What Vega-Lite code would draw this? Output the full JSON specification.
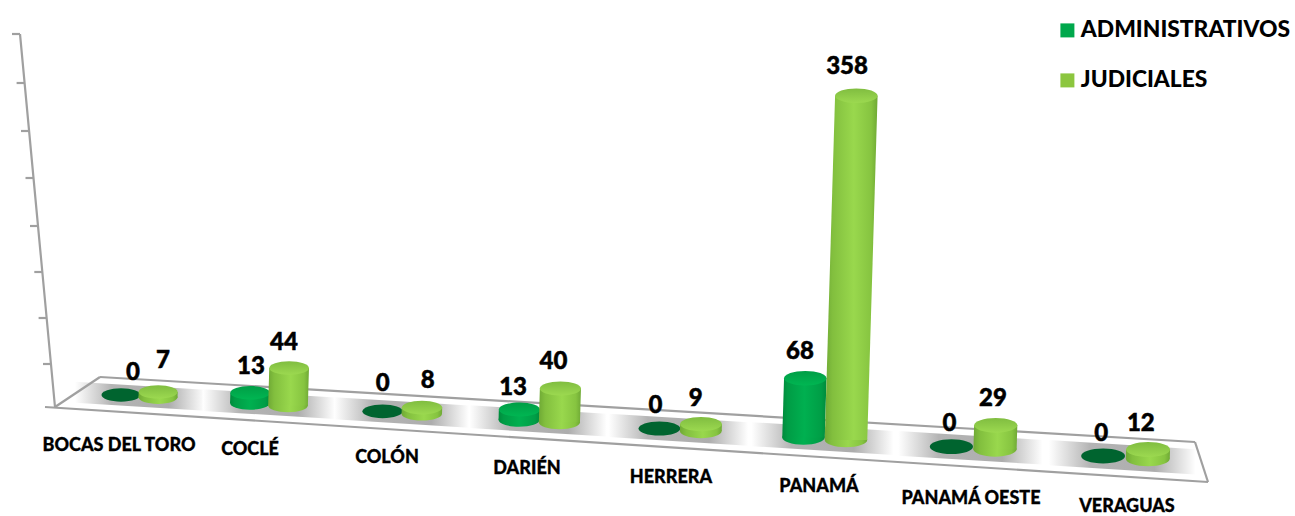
{
"$schema":"https://vega.github.io/schema/vega-lite/v6.json",
"width":1295,"height":516,"padding":0,"autosize":{"type":"none"},
"background":"white",
"config":{"view":{"stroke":null},"font":"Lato"},
"data":{"values":[
{"departamento":"BOCAS DEL TORO","tipo":"ADMINISTRATIVOS","valor":0},
{"departamento":"BOCAS DEL TORO","tipo":"JUDICIALES","valor":7},
{"departamento":"COCLÉ","tipo":"ADMINISTRATIVOS","valor":13},
{"departamento":"COCLÉ","tipo":"JUDICIALES","valor":44},
{"departamento":"COLÓN","tipo":"ADMINISTRATIVOS","valor":0},
{"departamento":"COLÓN","tipo":"JUDICIALES","valor":8},
{"departamento":"DARIÉN","tipo":"ADMINISTRATIVOS","valor":13},
{"departamento":"DARIÉN","tipo":"JUDICIALES","valor":40},
{"departamento":"HERRERA","tipo":"ADMINISTRATIVOS","valor":0},
{"departamento":"HERRERA","tipo":"JUDICIALES","valor":9},
{"departamento":"PANAMÁ","tipo":"ADMINISTRATIVOS","valor":68},
{"departamento":"PANAMÁ","tipo":"JUDICIALES","valor":358},
{"departamento":"PANAMÁ OESTE","tipo":"ADMINISTRATIVOS","valor":0},
{"departamento":"PANAMÁ OESTE","tipo":"JUDICIALES","valor":29},
{"departamento":"VERAGUAS","tipo":"ADMINISTRATIVOS","valor":0},
{"departamento":"VERAGUAS","tipo":"JUDICIALES","valor":12}
]},
"transform":[
{"calculate":"indexof(['BOCAS DEL TORO','COCLÉ','COLÓN','DARIÉN','HERRERA','PANAMÁ','PANAMÁ OESTE','VERAGUAS'],datum.departamento)","as":"i"},
{"calculate":"datum.tipo==='JUDICIALES'?1:0","as":"j"},
{"calculate":"2*datum.i+datum.j","as":"s"},
{"calculate":"121+127*datum.i+1.9*datum.i*datum.i+datum.j*(37+1.1*datum.i)","as":"xb"},
{"calculate":"395+0.0622*(datum.xb-121)","as":"yb"},
{"calculate":"19.5+0.35*datum.i","as":"r"},
{"calculate":"pow(datum.valor,1.06)*0.676","as":"h"},
{"calculate":"datum.xb+0.03*datum.h","as":"xt"},
{"calculate":"datum.yb-datum.h","as":"yt"},
{"calculate":"4*datum.r*datum.r","as":"area"}
],
"encoding":{
"x":{"type":"quantitative","scale":{"domain":[0,1295],"range":[0,1295],"nice":false,"zero":false},"axis":null},
"y":{"type":"quantitative","scale":{"domain":[0,516],"range":[0,516],"nice":false,"zero":false},"axis":null}
},
"layer":[
{"data":{"values":[{"a":55,"b":407,"c":407},{"a":100,"b":377,"c":410},{"a":1195,"b":442,"c":481},{"a":1208,"b":482,"c":482}]},
 "mark":{"type":"area","fill":"#ffffff"},
 "encoding":{"x":{"field":"a"},"y":{"field":"b"},"y2":{"field":"c"}}},
{"transform":[{"filter":"datum.j===0"},{"calculate":"[-1,1]","as":"t"},{"flatten":["t"]},
  {"calculate":"datum.xb+19+datum.t*(65+1.2*datum.i)","as":"bx"},
  {"calculate":"395+0.0622*(datum.bx-121)","as":"by"},
  {"calculate":"datum.by-10.5-0.3*datum.i","as":"y1"},
  {"calculate":"datum.by+10.5+0.3*datum.i","as":"y2b"}],
 "mark":{"type":"area","fill":{"gradient":"linear","x1":0,"x2":1,"y1":0,"y2":0,"stops":[{"offset":0,"color":"#ffffff"},{"offset":0.28,"color":"#b4b4b4"},{"offset":0.72,"color":"#adadad"},{"offset":1,"color":"#ffffff"}]}},
 "encoding":{"x":{"field":"bx"},"y":{"field":"y1"},"y2":{"field":"y2b"},"detail":{"field":"departamento"}}},
{"data":{"values":[
 {"a":20,"b":34,"c":55,"d":407},{"a":45,"b":407,"c":1208,"d":482},{"a":55,"b":407,"c":100,"d":377},{"a":100,"b":377,"c":1195,"d":442},{"a":1195,"b":442,"c":1208,"d":482},
 {"a":12,"b":34,"c":20,"d":34},{"a":16.6,"b":83,"c":24.6,"d":83},{"a":21,"b":131,"c":29,"d":131},{"a":25.5,"b":178,"c":33.5,"d":178},{"a":30,"b":226,"c":38,"d":226},{"a":34.3,"b":272,"c":42.3,"d":272},{"a":38.6,"b":318,"c":46.6,"d":318},{"a":43,"b":364,"c":51,"d":364}]},
 "mark":{"type":"rule","stroke":"#a0a0a0","strokeWidth":2.2},
 "encoding":{"x":{"field":"a"},"y":{"field":"b"},"x2":{"field":"c"},"y2":{"field":"d"}}},
{"transform":[{"filter":"datum.valor>0 && datum.j===0"}],
 "mark":{"type":"point","filled":true,"opacity":1,"shape":"M-1,0A1,0.34,0,1,1,1,0A1,0.34,0,1,1,-1,0Z","fill":{"gradient":"linear","x1":0,"x2":1,"y1":0,"y2":0,"stops":[{"offset":0,"color":"#008a3c"},{"offset":0.12,"color":"#009c45"},{"offset":0.5,"color":"#00b050"},{"offset":0.88,"color":"#009e46"},{"offset":1,"color":"#008a3c"}]}},
 "encoding":{"x":{"field":"xb"},"y":{"field":"yb"},"size":{"field":"area","type":"quantitative","scale":null}}},
{"transform":[{"filter":"datum.valor>0 && datum.j===0"},{"calculate":"[0,1]","as":"t"},{"flatten":["t"]},
  {"calculate":"datum.xb+datum.t*(datum.xt-datum.xb)-datum.r","as":"xl"},{"calculate":"datum.xb+datum.t*(datum.xt-datum.xb)+datum.r","as":"xr"},{"calculate":"datum.yb+datum.t*(datum.yt-datum.yb)","as":"yy"}],
 "mark":{"type":"area","orient":"horizontal","fill":{"gradient":"linear","x1":0,"x2":1,"y1":0,"y2":0,"stops":[{"offset":0,"color":"#008a3c"},{"offset":0.12,"color":"#009c45"},{"offset":0.5,"color":"#00b050"},{"offset":0.88,"color":"#009e46"},{"offset":1,"color":"#008a3c"}]}},
 "encoding":{"y":{"field":"yy"},"x":{"field":"xl"},"x2":{"field":"xr"},"detail":{"field":"departamento"}}},
{"transform":[{"filter":"datum.valor>0 && datum.j===0"}],
 "mark":{"type":"point","filled":true,"opacity":1,"shape":"M-1,0A1,0.34,0,1,1,1,0A1,0.34,0,1,1,-1,0Z","fill":{"gradient":"linear","x1":0,"x2":0,"y1":0,"y2":1,"stops":[{"offset":0,"color":"#009e46"},{"offset":1,"color":"#00b652"}]}},
 "encoding":{"x":{"field":"xt"},"y":{"field":"yt"},"size":{"field":"area","type":"quantitative","scale":null}}},
{"transform":[{"filter":"datum.valor===0"}],
 "mark":{"type":"point","filled":true,"opacity":1,"shape":"M-1,0A1,0.34,0,1,1,1,0A1,0.34,0,1,1,-1,0Z","fill":"#00642f"},
 "encoding":{"x":{"field":"xb"},"y":{"field":"yb"},"size":{"field":"area","type":"quantitative","scale":null}}},
{"transform":[{"filter":"datum.valor>0 && datum.j===1"}],
 "mark":{"type":"point","filled":true,"opacity":1,"shape":"M-1,0A1,0.34,0,1,1,1,0A1,0.34,0,1,1,-1,0Z","fill":{"gradient":"linear","x1":0,"x2":1,"y1":0,"y2":0,"stops":[{"offset":0,"color":"#6fa935"},{"offset":0.15,"color":"#82bf3e"},{"offset":0.55,"color":"#99d84d"},{"offset":0.88,"color":"#86c440"},{"offset":1,"color":"#6fa935"}]}},
 "encoding":{"x":{"field":"xb"},"y":{"field":"yb"},"size":{"field":"area","type":"quantitative","scale":null}}},
{"transform":[{"filter":"datum.valor>0 && datum.j===1"},{"calculate":"[0,1]","as":"t"},{"flatten":["t"]},
  {"calculate":"datum.xb+datum.t*(datum.xt-datum.xb)-datum.r","as":"xl"},{"calculate":"datum.xb+datum.t*(datum.xt-datum.xb)+datum.r","as":"xr"},{"calculate":"datum.yb+datum.t*(datum.yt-datum.yb)","as":"yy"}],
 "mark":{"type":"area","orient":"horizontal","fill":{"gradient":"linear","x1":0,"x2":1,"y1":0,"y2":0,"stops":[{"offset":0,"color":"#6fa935"},{"offset":0.15,"color":"#82bf3e"},{"offset":0.55,"color":"#99d84d"},{"offset":0.88,"color":"#86c440"},{"offset":1,"color":"#6fa935"}]}},
 "encoding":{"y":{"field":"yy"},"x":{"field":"xl"},"x2":{"field":"xr"},"detail":{"field":"departamento"}}},
{"transform":[{"filter":"datum.valor>0 && datum.j===1"}],
 "mark":{"type":"point","filled":true,"opacity":1,"shape":"M-1,0A1,0.34,0,1,1,1,0A1,0.34,0,1,1,-1,0Z","fill":{"gradient":"linear","x1":0,"x2":0,"y1":0,"y2":1,"stops":[{"offset":0,"color":"#80bd40"},{"offset":1,"color":"#9cd950"}]}},
 "encoding":{"x":{"field":"xt"},"y":{"field":"yt"},"size":{"field":"area","type":"quantitative","scale":null}}},
{"transform":[
  {"calculate":"datum.xb+[12,5,1,-4,0,6,-6,-6,-4,-5,-3.5,1,-2,-2,-2,-7][datum.s]","as":"lx"},
  {"calculate":"datum.yt-datum.r*0.34-19+[4,-5,0,1,-1,-1,4,-1,4,1,0,-2,4,0,4,1][datum.s]","as":"ly"}],
 "mark":{"type":"text","font":"Lato","fontWeight":900,"fontSize":24,"align":"center","baseline":"middle","color":"#000000","stroke":"#000000","strokeWidth":0.5},
 "encoding":{"x":{"field":"lx"},"y":{"field":"ly"},"text":{"field":"valor","type":"quantitative"}}},
{"transform":[{"filter":"datum.j===0"},
  {"calculate":"[119,250,387,527,671,819,971,1127][datum.i]","as":"lx"},
  {"calculate":"[446,450,458,469,478,487,499,507][datum.i]","as":"ly"}],
 "mark":{"type":"text","font":"Lato","fontWeight":900,"fontSize":18,"align":"center","baseline":"middle","color":"#000000","stroke":"#000000","strokeWidth":0.3},
 "encoding":{"x":{"field":"lx"},"y":{"field":"ly"},"text":{"field":"departamento","type":"nominal"}}},
{"mark":{"type":"point","filled":true,"opacity":0},
 "encoding":{"x":{"field":"xb"},"y":{"field":"yb"},
  "color":{"field":"tipo","type":"nominal","scale":{"domain":["ADMINISTRATIVOS","JUDICIALES"],"range":["#00a84c","#8cc63f"]},
   "legend":{"title":null,"orient":"none","legendX":1056,"legendY":19,"symbolType":"square","symbolSize":196,"symbolOpacity":1,"symbolStrokeWidth":0,"labelFont":"Lato","labelFontWeight":900,"labelFontSize":22.8,"labelColor":"#000000","rowPadding":26,"labelOffset":2,"labelLimit":300,"symbolOffset":0}}}}
]
}
